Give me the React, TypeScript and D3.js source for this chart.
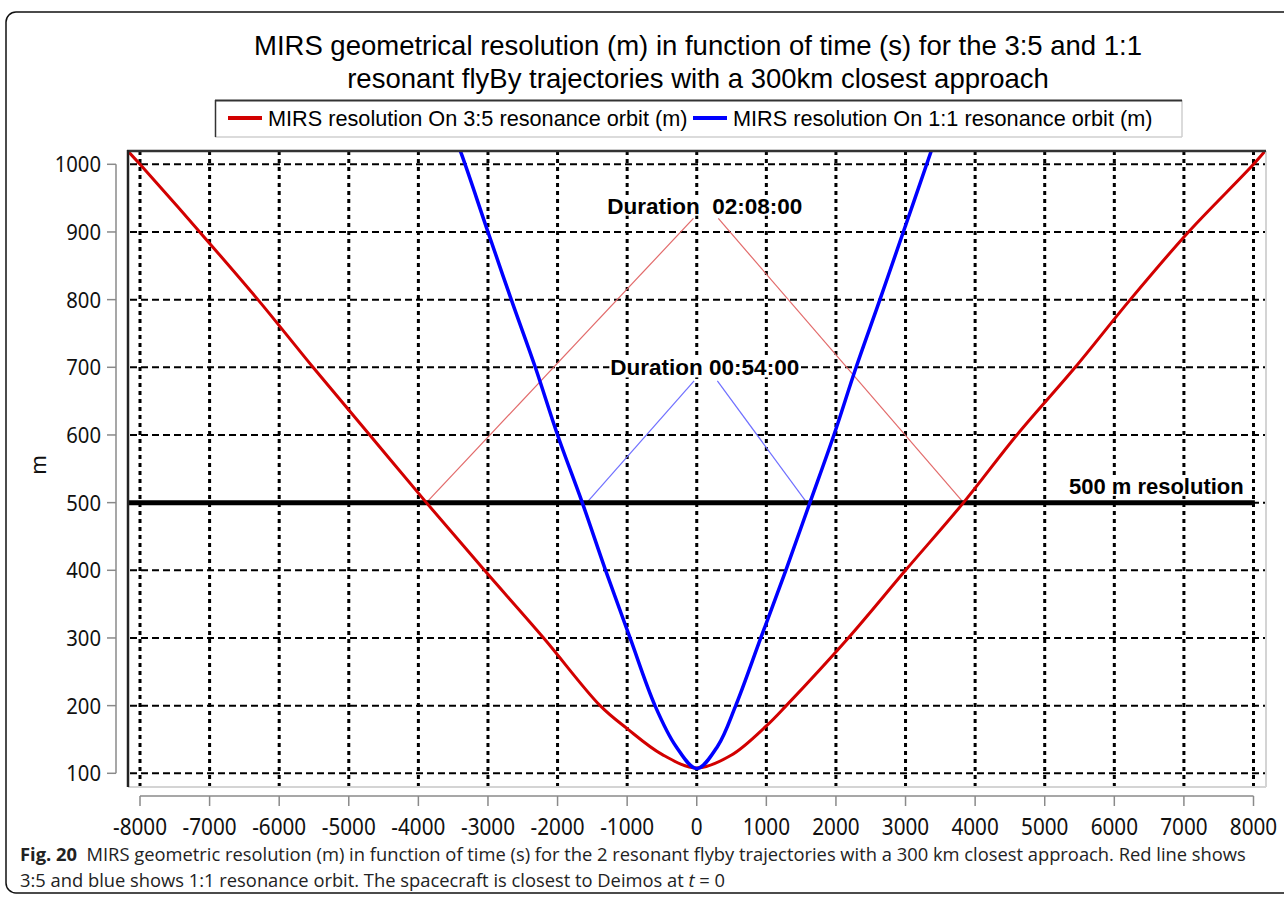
import React, { useLayoutEffect, useRef, useState } from "react";
import * as d3 from "d3";

// ---- data ----
const redTime = [-8250, -8000, -7142, -6306, -5514, -4699, -3885, -3050, -2200, -1388, -1000, -500, 0, 500, 1000, 1286, 2178, 3000, 3833, 4600, 5438, 6229, 7066, 8000, 8250];
const redValue = [1028, 1000, 900, 800, 700, 600, 500, 400, 300, 200, 166, 128, 108, 127, 170, 200, 300, 400, 500, 600, 700, 800, 900, 1000, 1030];

const blueTime = [-3550, -3384, -3000, -2665, -2320, -2000, -1645, -1310, -958, -600, -300, 0, 300, 560, 920, 1280, 1626, 1971, 2290, 2632, 2968, 3357, 3500];
const blueValue = [1060, 1016, 900, 800, 700, 600, 500, 400, 300, 200, 140, 107, 140, 200, 300, 400, 500, 600, 700, 800, 900, 1016, 1060];

const xTicks = [-8000, -7000, -6000, -5000, -4000, -3000, -2000, -1000, 0, 1000, 2000, 3000, 4000, 5000, 6000, 7000, 8000];
const yTicks = [100, 200, 300, 400, 500, 600, 700, 800, 900, 1000];

const thresholdValue = 500;
const thresholdRange = [-8200, 8020];

// annotation guide lines [t, value]
const redGuideLeft = [[-3885, 500], [-48, 920]];
const redGuideRight = [[310, 920], [3833, 500]];
const blueGuideLeft = [[-1580, 500], [-38, 680]];
const blueGuideRight = [[296, 680], [1581, 500]];

const durationRed = { t: 0, v: 927, text: "Duration  02:08:00" };
const durationBlue = { t: 0, v: 688, text: "Duration 00:54:00" };
const thresholdLabel = { t: 7860, v: 513, text: "500 m resolution" };

const titleLines = [
  "MIRS geometrical resolution (m) in function of time (s) for the 3:5 and 1:1",
  "resonant flyBy trajectories with a 300km closest approach",
];
const legendLabels = [
  "MIRS resolution On 3:5 resonance orbit (m)",
  "MIRS resolution On 1:1 resonance orbit (m)",
];
const captionBold = "Fig. 20";
const captionLine1 = "  MIRS geometric resolution (m) in function of time (s) for the 2 resonant flyby trajectories with a 300 km closest approach. Red line shows";
const captionLine2 = "3:5 and blue shows 1:1 resonance orbit. The spacecraft is closest to Deimos at ";

const RED = "#d20000";
const BLUE = "#0000ff";

function BgText({ x, y, text, anchor, size }: { x: number; y: number; text: string; anchor: string; size: number }) {
  const ref = useRef<SVGTextElement>(null);
  const [bb, setBb] = useState<{ x: number; y: number; w: number; h: number } | null>(null);
  useLayoutEffect(() => {
    if (ref.current) {
      const b = ref.current.getBBox();
      setBb({ x: b.x, y: b.y, w: b.width, h: b.height });
    }
  }, [x, y, text]);
  return (
    <g>
      {bb && <rect x={bb.x - 1} y={bb.y + 2} width={bb.w + 2} height={bb.h - 5} fill="#fff" />}
      <text
        ref={ref}
        x={x}
        y={y}
        textAnchor={anchor as any}
        fontFamily="'Liberation Sans', Arial, sans-serif"
        fontWeight="bold"
        fontSize={size}
        fill="#000"
        style={{ whiteSpace: "pre" }}
      >
        {text}
      </text>
    </g>
  );
}

function Caption() {
  const r1 = useRef<SVGTextElement>(null);
  const r2 = useRef<SVGTextElement>(null);
  const [f, setF] = useState(1);
  useLayoutEffect(() => {
    if (r1.current) {
      const w = r1.current.getComputedTextLength();
      if (w > 0) setF(1227 / w);
    }
  }, []);
  const font = "'Open Sans', 'Noto Sans', sans-serif";
  return (
    <g>
      <text
        ref={r1}
        transform={`translate(20,861) scale(${f},1)`}
        fontFamily={font}
        fontSize={18.5}
        fill="#222"
        style={{ whiteSpace: "pre" }}
      >
        <tspan fontWeight="bold">{captionBold}</tspan>
        <tspan>{captionLine1}</tspan>
      </text>
      <text
        ref={r2}
        transform={`translate(20,887) scale(${f},1)`}
        fontFamily={font}
        fontSize={18.5}
        fill="#222"
        style={{ whiteSpace: "pre" }}
      >
        <tspan>{captionLine2}</tspan>
        <tspan fontStyle="italic">t</tspan>
        <tspan>{" = 0"}</tspan>
      </text>
    </g>
  );
}

export default function App() {
  const W = 1284;
  const H = 900;
  const plot = { left: 128, top: 151, right: 1266, bottom: 787 };

  const x = d3.scaleLinear().domain([-8000, 8000]).range([140, 1253.5]);
  const y = d3.scaleLinear().domain([100, 1000]).range([773.3, 164.3]);

  const line = d3
    .line<[number, number]>()
    .x((d) => x(d[0]))
    .y((d) => y(d[1]))
    .curve(d3.curveCatmullRom.alpha(0.5));
  const straight = d3
    .line<number[]>()
    .x((d) => x(d[0]))
    .y((d) => y(d[1]));

  const redData = redTime.map((t, i) => [t, redValue[i]] as [number, number]);
  const blueData = blueTime.map((t, i) => [t, blueValue[i]] as [number, number]);

  const tickFont = "'Noto Sans', 'DejaVu Sans', sans-serif";
  const axisGray = "#8a8a8a";

  return (
    <svg width={W} height={H} style={{ position: "absolute", left: 0, top: 0, background: "#fff" }}>
      <defs>
        <clipPath id="plotClip">
          <rect x={plot.left} y={plot.top} width={plot.right - plot.left} height={plot.bottom - plot.top} />
        </clipPath>
      </defs>
      <rect x={0} y={0} width={W} height={H} fill="#fff" />
      {/* outer frame */}
      <rect x={6} y={12} width={1320} height={881} rx={10} ry={10} fill="none" stroke="#111" strokeWidth={1.5} />

      {/* title */}
      {titleLines.map((t, i) => (
        <text
          key={i}
          x={698}
          y={55 + i * 33}
          textAnchor="middle"
          fontFamily="'Liberation Sans', Arial, sans-serif"
          fontSize={27.5}
          fill="#000"
        >
          {t}
        </text>
      ))}

      {/* legend */}
      <g>
        <rect x={215} y={100} width={967} height={37} fill="#fff" />
        <line x1={215} y1={137} x2={1182} y2={137} stroke="#cfcfcf" strokeWidth={1.5} />
        <line x1={1182} y1={100} x2={1182} y2={137} stroke="#cfcfcf" strokeWidth={1.5} />
        <line x1={215} y1={100.5} x2={1182} y2={100.5} stroke="#333" strokeWidth={2} />
        <line x1={215.5} y1={100} x2={215.5} y2={137} stroke="#333" strokeWidth={1.5} />
        <line x1={228} y1={118} x2={262} y2={118} stroke={RED} strokeWidth={4} />
        <text x={268} y={125.5} fontFamily="'Liberation Sans', Arial, sans-serif" fontSize={21.7} fill="#000">
          {legendLabels[0]}
        </text>
        <line x1={693} y1={118} x2={727} y2={118} stroke={BLUE} strokeWidth={4} />
        <text x={733} y={125.5} fontFamily="'Liberation Sans', Arial, sans-serif" fontSize={21.7} fill="#000">
          {legendLabels[1]}
        </text>
      </g>

      {/* plot background and grid */}
      <rect x={plot.left} y={plot.top} width={plot.right - plot.left} height={plot.bottom - plot.top} fill="#fff" />
      <g clipPath="url(#plotClip)">
        {xTicks.map((t) => (
          <line key={"gx" + t} x1={x(t)} x2={x(t)} y1={plot.top} y2={plot.bottom} stroke="#000" strokeWidth={3} strokeDasharray="4,4" />
        ))}
        {yTicks.map((v) => (
          <line key={"gy" + v} x1={plot.left + 2} x2={plot.right} y1={y(v)} y2={y(v)} stroke="#000" strokeWidth={2} strokeDasharray="7,4" />
        ))}

        {/* guide lines */}
        <path d={straight(redGuideLeft) || ""} fill="none" stroke="#e26a6a" strokeWidth={1.2} />
        <path d={straight(redGuideRight) || ""} fill="none" stroke="#e26a6a" strokeWidth={1.2} />
        <path d={straight(blueGuideLeft) || ""} fill="none" stroke="#6f6fff" strokeWidth={1.2} />
        <path d={straight(blueGuideRight) || ""} fill="none" stroke="#6f6fff" strokeWidth={1.2} />

        {/* threshold */}
        <line
          x1={x(thresholdRange[0])}
          x2={x(thresholdRange[1])}
          y1={y(thresholdValue)}
          y2={y(thresholdValue)}
          stroke="#000"
          strokeWidth={5}
        />

        {/* series */}
        <path d={line(redData) || ""} fill="none" stroke={RED} strokeWidth={3} strokeLinejoin="round" />
        <path d={line(blueData) || ""} fill="none" stroke={BLUE} strokeWidth={3.5} strokeLinejoin="round" />

        <BgText x={x(durationRed.t) + 8} y={y(durationRed.v)} text={durationRed.text} anchor="middle" size={22.5} />
        <BgText x={x(durationBlue.t) + 8} y={y(durationBlue.v)} text={durationBlue.text} anchor="middle" size={22.5} />
        <BgText x={x(thresholdLabel.t)} y={y(thresholdLabel.v)} text={thresholdLabel.text} anchor="end" size={22} />
      </g>

      {/* plot frame (sunken) */}
      <line x1={plot.left} y1={plot.bottom} x2={plot.right} y2={plot.bottom} stroke="#d4d4d4" strokeWidth={2} />
      <line x1={plot.right} y1={plot.top} x2={plot.right} y2={plot.bottom} stroke="#d4d4d4" strokeWidth={2} />
      <line x1={plot.left - 1} y1={plot.top} x2={plot.right} y2={plot.top} stroke="#333" strokeWidth={2.5} />
      <line x1={plot.left} y1={plot.top - 1} x2={plot.left} y2={plot.bottom} stroke="#222" strokeWidth={2.5} />

      {/* y axis */}
      <line x1={116} x2={116} y1={y(1000)} y2={y(100)} stroke={axisGray} strokeWidth={1.5} />
      {yTicks.map((v) => (
        <g key={"yt" + v}>
          <line x1={107} x2={116} y1={y(v)} y2={y(v)} stroke={axisGray} strokeWidth={1.5} />
          <text
            transform={`translate(101,${y(v) + 8}) scale(0.9,1)`}
            textAnchor="end"
            fontFamily={tickFont}
            fontSize={22.5}
            fill="#111"
          >
            {v}
          </text>
        </g>
      ))}
      <text
        transform="translate(46,465) rotate(-90)"
        textAnchor="middle"
        fontFamily={tickFont}
        fontSize={21}
        fill="#111"
      >
        m
      </text>

      {/* x axis */}
      <line x1={x(-8000)} x2={x(8000)} y1={796} y2={796} stroke={axisGray} strokeWidth={1.5} />
      {xTicks.map((t) => (
        <g key={"xt" + t}>
          <line x1={x(t)} x2={x(t)} y1={796} y2={806} stroke={axisGray} strokeWidth={1.5} />
          <text
            transform={`translate(${x(t)},835) scale(0.9,1)`}
            textAnchor="middle"
            fontFamily={tickFont}
            fontSize={23}
            fill="#111"
          >
            {t}
          </text>
        </g>
      ))}

      <Caption />
    </svg>
  );
}
